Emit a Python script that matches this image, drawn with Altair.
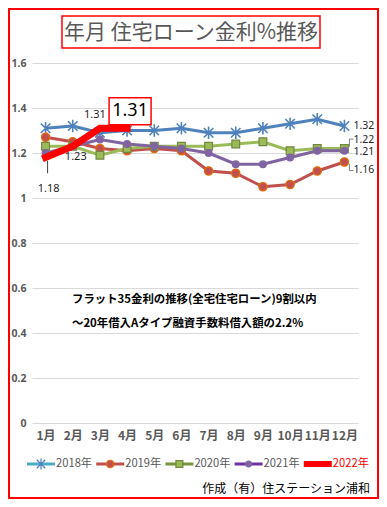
import altair as alt
import pandas as pd

months = [f"{i}月" for i in range(1, 13)]
years = ["2018年", "2019年", "2020年", "2021年", "2022年"]
r2018 = [1.31, 1.32, 1.29, 1.30, 1.30, 1.31, 1.29, 1.29, 1.31, 1.33, 1.35, 1.32]
r2019 = [1.27, 1.25, 1.22, 1.21, 1.22, 1.21, 1.12, 1.11, 1.05, 1.06, 1.12, 1.16]
r2020 = [1.23, 1.23, 1.19, 1.22, 1.23, 1.23, 1.23, 1.24, 1.25, 1.21, 1.22, 1.22]
r2021 = [1.20, 1.23, 1.26, 1.24, 1.23, 1.22, 1.20, 1.15, 1.15, 1.18, 1.21, 1.21]
r2022 = [1.18, 1.23, 1.31, 1.31]

line_colors = ["#4F81BD", "#C0504D", "#9BBB59", "#8064A2", "#FF0000"]
marker_fills = ["#4F81BD", "#C0504D", "#9BBB59", "#8064A2"]
marker_strokes = ["#4F81BD", "#E46C0A", "#71893F", "#8064A2"]
marker_shapes = ["M-1,-1L1,1M-1,1L1,-1M0,-1.3L0,1.3", "circle", "square", "circle"]
marker_sizes = [90, 70, 60, 45]
legend_line_colors = ["#4BACC6", "#C0504D", "#77933C", "#7030A0", "#FF0000"]
legend_label_colors = ["#595959", "#595959", "#595959", "#595959", "#FF0000"]

series = [r2018, r2019, r2020, r2021, r2022]
rows = []
for y, vals in zip(years, series):
    for m, v in zip(months, vals):
        rows.append({"month": m, "year": y, "rate": v})
df = pd.DataFrame(rows)

# svg is 371 x 491 placed at page (8, 8)
W, H = 326, 360
PL, PT = 24, 55
PR = 371 - PL - W
PB = 491 - PT - H
OX, OY = 8 + PL, 8 + PT  # page position of plot origin

xs = alt.X("month:N", sort=months)
xenc = alt.X("month:N", sort=months, scale=alt.Scale(type="point", padding=0.5, domain=months),
             axis=alt.Axis(title=None, domain=False, ticks=False, grid=False, labelAngle=0,
                           labelFont="Noto Sans CJK JP", labelFontWeight="bold", labelFontSize=12,
                           labelColor="#595959", labelPadding=7))
yenc = alt.Y("rate:Q", scale=alt.Scale(domain=[0, 1.6], nice=False, zero=True),
             axis=alt.Axis(title=None, values=[0, 0.2, 0.4, 0.6, 0.8, 1.0, 1.2, 1.4, 1.6], format=".1~f",
                           domain=False, ticks=False, grid=True, gridColor="#D9D9D9", gridWidth=1,
                           labelFont="Noto Sans", labelFontWeight="bold", labelFontSize=10.5,
                           labelColor="#595959", labelPadding=6))
cscale = alt.Scale(domain=years, range=line_colors)

lines = alt.Chart(df).mark_line().encode(
    x=xenc, y=yenc, color=alt.Color("year:N", scale=cscale, legend=None),
    strokeWidth=alt.StrokeWidth("year:N", scale=alt.Scale(domain=years, range=[3, 3, 3, 3, 7]), legend=None),
)

pts = []
for i in range(4):
    pts.append(alt.Chart(df).transform_filter(alt.datum.year == years[i]).mark_point(
        filled=True, shape=marker_shapes[i], size=marker_sizes[i], fill=marker_fills[i],
        stroke=marker_strokes[i], strokeWidth=1.6 if i == 0 else 1.2, opacity=1).encode(x=xs, y="rate:Q"))

red = alt.Chart(df).transform_filter(alt.datum.year == "2022年").mark_line(
    strokeWidth=7, strokeCap="square", color="#FF0000").encode(x=xs, y="rate:Q")

# legend (drawn as decoration, Excel style: line with marker)
LEG_X0, LEG_STEP, LEG_Y = 27, 69.2, 464
one = pd.DataFrame({"k": [0]})
legend_layers = []
for i, yname in enumerate(years):
    x0 = LEG_X0 + i * LEG_STEP
    legend_layers.append(alt.Chart(one).mark_rule(color=legend_line_colors[i], strokeWidth=6 if i == 4 else 3).encode(
        x=alt.value(x0 - OX), x2=alt.value(x0 + 28 - OX), y=alt.value(LEG_Y - OY)))
    if i < 4:
        legend_layers.append(alt.Chart(one).mark_point(
            filled=True, shape=marker_shapes[i], size=marker_sizes[i] * 0.8, fill=marker_fills[i],
            stroke=marker_strokes[i], strokeWidth=1.2, opacity=1).encode(
            x=alt.value(x0 + 14 - OX), y=alt.value(LEG_Y - OY)))
    legend_layers.append(alt.Chart(pd.DataFrame({"t": [yname]})).mark_text(
        align="left", baseline="middle", fontSize=11.2, font="Noto Sans CJK JP", color=legend_label_colors[i]).encode(
        text="t:N", x=alt.value(x0 + 29 - OX), y=alt.value(LEG_Y - OY)))

def lab(year, idx):
    vals = series[years.index(year)]
    return pd.DataFrame({"month": [months[idx]], "rate": [vals[idx]], "t": [f"{vals[idx]:.2f}"]})

def txt(d, dx, dy, size=11, color="#262626", align="center"):
    return alt.Chart(d).mark_text(dx=dx, dy=dy, fontSize=size, font="Noto Sans", color=color, align=align).encode(
        x=xs, y="rate:Q", text="t:N")

labels = [
    txt(lab("2022年", 0), 3, 31),
    txt(lab("2022年", 1), 3, 11),
    txt(lab("2022年", 2), -5, -13),
    txt(lab("2018年", 11), 9, 0, size=10.5, align="left"),
    txt(lab("2020年", 11), 9, -9, size=10.5, align="left"),
    txt(lab("2021年", 11), 9, 1, size=10.5, align="left"),
    txt(lab("2019年", 11), 9, 8, size=10.5, align="left"),
]
apr = lab("2022年", 3)
box = alt.Chart(apr).mark_point(shape="M-1,-0.643L1,-0.643L1,0.643L-1,0.643Z", size=1764, filled=True,
                                fill="white", stroke="#FF0000", strokeWidth=1.5, yOffset=-17, xOffset=3,
                                opacity=1).encode(x=xs, y="rate:Q")
big = alt.Chart(apr).mark_text(dx=3, dy=-17, fontSize=18, font="Noto Sans", color="#000000").encode(
    x=xs, y="rate:Q", text="t:N")

# leader lines
vlead = pd.DataFrame({"month": ["1月", "12月", "12月"], "a": [1.165, 1.228, 1.152], "b": [1.11, 1.262, 1.122],
                      "o": [2, 5, 5]})
vrules = [alt.Chart(vlead.iloc[[i]]).mark_rule(color="#7F7F7F" if i else "#404040", strokeWidth=1,
                                               xOffset=int(vlead["o"][i])).encode(x=xs, y="a:Q", y2="b:Q")
          for i in range(3)]
hlead = pd.DataFrame({"month": ["12月", "12月"], "a": [1.262, 1.122]})
hrules = alt.Chart(hlead).mark_rule(color="#7F7F7F", strokeWidth=1, xOffset=5, x2Offset=9).encode(
    x=xs, x2="month:N", y="a:Q")

# decorations
border = alt.Chart(one).mark_rect(fill=None, stroke="#FF0000", strokeWidth=2).encode(
    x=alt.value(-PL + 1), x2=alt.value(W + PR - 1), y=alt.value(-PT + 1), y2=alt.value(H + PB - 1))
title_box = alt.Chart(one).mark_rect(fill="white", stroke="#FF0000", strokeWidth=1.5).encode(
    x=alt.value(62 - OX), x2=alt.value(320 - OX), y=alt.value(16 - OY), y2=alt.value(48 - OY))
title = alt.Chart(pd.DataFrame({"t": ["年月 住宅ローン金利%推移"]})).mark_text(
    fontSize=21, font="Noto Sans CJK JP", color="#595959", align="center", baseline="middle").encode(
    text="t:N", x=alt.value(191 - OX), y=alt.value(33 - OY))
note = alt.Chart(pd.DataFrame({"t": ["フラット35金利の推移(全宅住宅ローン)9割以内", "～20年借入Aタイプ融資手数料借入額の2.2%"],
                               "yy": [300 - OY, 324 - OY]})).mark_text(
    fontSize=11.4, font="Noto Sans CJK JP", fontWeight="bold", color="#000000", align="left", baseline="middle").encode(
    text="t:N", x=alt.value(72 - OX), y=alt.Y("yy:Q", scale=None))
credit = alt.Chart(pd.DataFrame({"t": ["作成（有）住ステーション浦和"]})).mark_text(
    fontSize=12, font="Noto Sans CJK JP", color="#000000", align="right", baseline="middle").encode(
    text="t:N", x=alt.value(370 - OX), y=alt.value(489 - OY))

chart = alt.layer(border, lines, *pts, red, *vrules, hrules, *labels, box, big,
                  title_box, title, note, credit, *legend_layers).properties(
    width=W, height=H,
    padding={"left": PL, "top": PT, "right": PR, "bottom": PB},
    autosize=alt.AutoSizeParams(type="none"),
    background="white",
).configure_view(stroke=None)

chart.save("out.html", embed_options={"renderer": "svg", "actions": False})
